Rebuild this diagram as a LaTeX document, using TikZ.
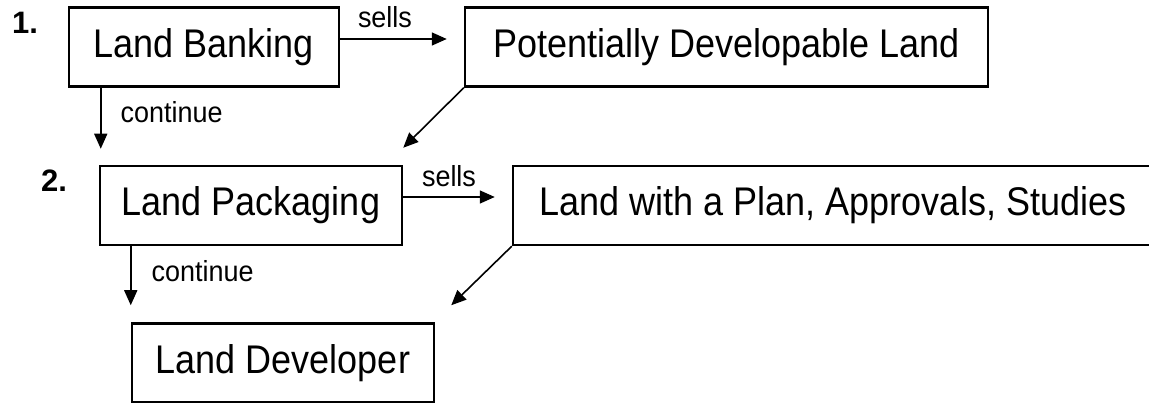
\documentclass[tikz,border=0pt]{standalone}
\usepackage{fontspec}
\setmainfont{Liberation Sans}
\newfontfamily\boxfont[FakeStretch=0.9]{Liberation Sans}
\newfontfamily\lblfont[FakeStretch=0.93]{Liberation Sans}
\usetikzlibrary{arrows.meta}

\tikzset{
  box/.style={draw, line width=2.5pt, minimum height=79pt, inner sep=0pt,
    font=\boxfont\fontsize{40}{46}\selectfont},
  arr/.style={line width=1.6pt, -{Triangle[length=15pt,width=13pt]}},
  lbl/.style={font=\lblfont\fontsize{29}{34}\selectfont, inner sep=0pt},
  num/.style={font=\bfseries\fontsize{31}{36}\selectfont, inner sep=0pt}
}

\begin{document}
\begin{tikzpicture}[x=1pt,y=-1pt]

    % Page frame, the plan box runs off the right side
    \useasboundingbox (0,0) rectangle (1149,403);
    \clip (0,0) rectangle (1149,403);

    % Boxes
    \node[box, minimum width=270pt] (bank) at (204,47) {Land Banking};
    \node[box, minimum width=523pt] (raw) at (726.5,47) {Potentially Developable Land};
    \node[box, minimum width=302pt] (pack) at (251,205.5) {Land Packaging};
    \node[box, minimum width=640pt] (plan) at (833,205.5) {Land with a Plan, Approvals, Studies};
    \node[box, minimum width=302pt] (dev) at (283,363) {Land Developer};

    % Step numbers
    \node[num, anchor=base west] (one) at (12,34) {1.};
    \node[num, anchor=base west] (two) at (41,192) {2.};

    % Sells arrows
    \draw[arr] ([yshift=8pt]bank.east) -- ([xshift=-17pt,yshift=8pt]raw.west)
        node[lbl, pos=0.42, above=10pt] (sellsone) {sells};
    \draw[arr] ([yshift=8.5pt]pack.east) -- ([xshift=-17pt,yshift=8.5pt]plan.west)
        node[lbl, midway, above=9pt] (sellstwo) {sells};

    % Continue arrows
    \draw[arr] ([xshift=33pt]bank.south west) -- ([xshift=2pt,yshift=16pt]pack.north west)
        node[lbl, midway, anchor=base west, xshift=19pt, yshift=-4.5pt] (contone) {continue};
    \draw[arr] ([xshift=32pt]pack.south west) -- ([yshift=17pt]dev.north west)
        node[lbl, midway, anchor=base west, xshift=20pt, yshift=-6pt] (conttwo) {continue};

    % Diagonal arrows
    \draw[arr] (raw.south west) -- ([yshift=17pt]pack.north east);
    \draw[arr] (plan.south west) -- ([xshift=16pt,yshift=17pt]dev.north east);

\end{tikzpicture}
\end{document}
